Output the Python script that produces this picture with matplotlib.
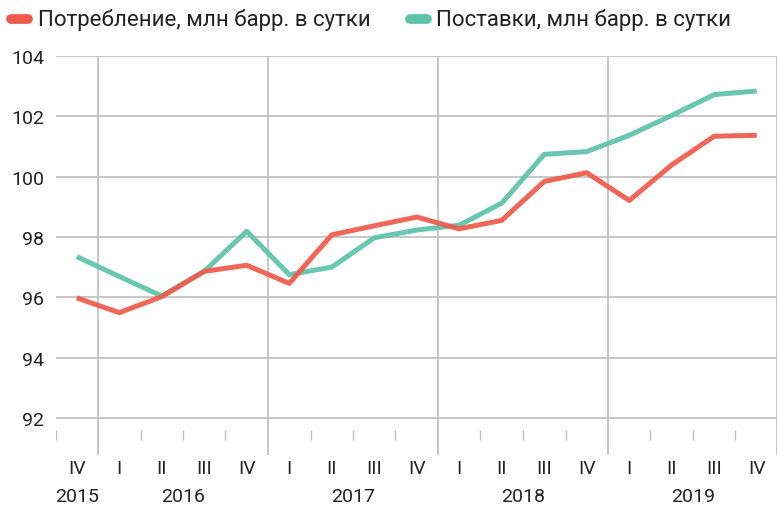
import numpy as np
import matplotlib.pyplot as plt
from matplotlib.lines import Line2D

plt.rcParams['font.family'] = ['Roboto', 'DejaVu Sans']

# Квартальные данные: IV кв. 2015 – IV кв. 2019
quarters = ["IV", "I", "II", "III", "IV", "I", "II", "III", "IV",
            "I", "II", "III", "IV", "I", "II", "III", "IV"]
years = ["2015", "2016", "2017", "2018", "2019"]
year_pos = [0, 2.5, 6.5, 10.5, 14.5]

consumption = [95.98, 95.49, 96.02, 96.86, 97.06, 96.46, 98.07, 98.37, 98.66,
               98.27, 98.55, 99.84, 100.13, 99.21, 100.39, 101.34, 101.37]
supply = [97.35, 96.69, 96.04, 96.86, 98.19, 96.75, 97.0, 97.97, 98.23,
          98.39, 99.12, 100.74, 100.83, 101.37, 102.03, 102.72, 102.84]

RED = "#ef5a4a"
TEAL = "#5cc3a8"
GRID = "#bdbdbd"

fig = plt.figure(figsize=(7.77, 5.10), dpi=100)
ax = fig.add_axes([55.5 / 777, 1 - 456 / 510, (778 - 55.5) / 777, (456 - 57) / 510])

x = np.arange(len(quarters))
ax.plot(x, supply, color=TEAL, lw=3.6, alpha=0.92, solid_capstyle="butt", zorder=3)
ax.plot(x, consumption, color=RED, lw=3.6, alpha=0.92, solid_capstyle="butt", zorder=3)

ax.set_xlim(-0.5, 16.5)
ax.set_ylim(90.77, 104)

# сетка
ax.set_yticks(np.arange(92, 105, 2))
ax.grid(axis="y", color=GRID, lw=1.2, zorder=1)
for b in [0.5, 4.5, 8.5, 12.5, 16.47]:
    ax.axvline(b, color=GRID, lw=1.2, zorder=1)
minor = [-0.5, 1.5, 2.5, 3.5, 5.5, 6.5, 7.5, 9.5, 10.5, 11.5, 13.5, 14.5, 15.5]
ax.vlines(minor, 91.27, 91.6, color=GRID, lw=1.0, zorder=1)

for s in ax.spines.values():
    s.set_visible(False)

ax.set_xticks(x)
ax.set_xticklabels(quarters)
ax.tick_params(axis="x", length=0, pad=3, labelsize=14, labelcolor="#222222")
ax.tick_params(axis="y", length=0, pad=8, labelsize=14, labelcolor="#222222")

for lab, p in zip(years, year_pos):
    ax.text(p, -0.103, lab, transform=ax.get_xaxis_transform(), ha="center", va="center",
            fontsize=14, color="#222222")

# легенда
fig.add_artist(Line2D([11 / 777, 28 / 777], [1 - 20 / 510] * 2, color=RED, lw=7,
                      solid_capstyle="round", transform=fig.transFigure))
fig.text(38 / 777, 1 - 20 / 510, "Потребление, млн барр. в сутки", fontsize=16,
         va="center", ha="left", color="#222222")
fig.add_artist(Line2D([410 / 777, 427 / 777], [1 - 20 / 510] * 2, color=TEAL, lw=7,
                      solid_capstyle="round", transform=fig.transFigure))
fig.text(436 / 777, 1 - 20 / 510, "Поставки, млн барр. в сутки", fontsize=16,
         va="center", ha="left", color="#222222")

fig.savefig("out.png", dpi=100)
